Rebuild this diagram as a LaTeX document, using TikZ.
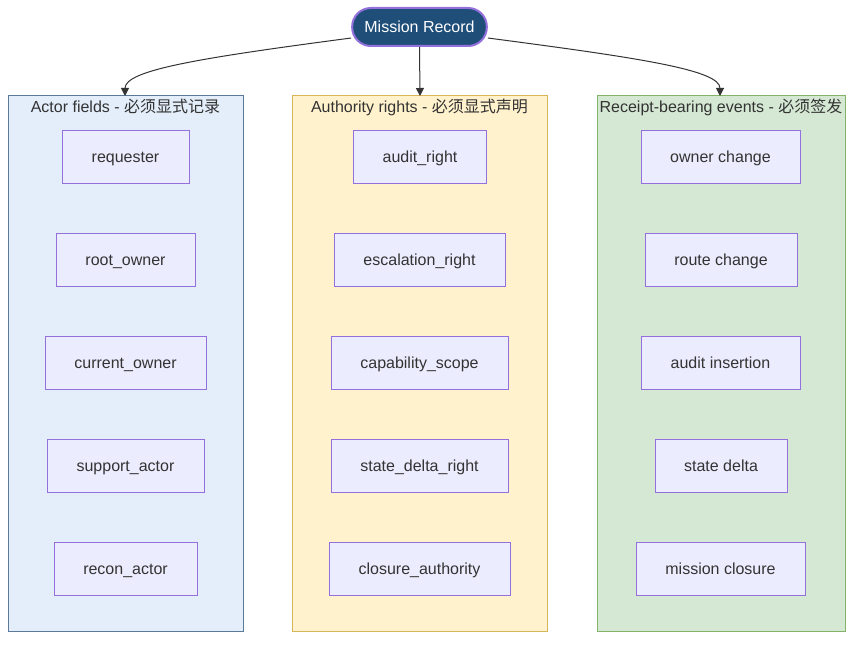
\documentclass[tikz,border=0pt]{standalone}
\usepackage{fontspec}
\setmainfont{Liberation Sans}
\newfontfamily\cjk{Noto Sans CJK SC}
\usetikzlibrary{arrows.meta}
\definecolor{missionblue}{HTML}{1F4E79}
\definecolor{nodepurple}{HTML}{9370DB}
\definecolor{nodefill}{HTML}{ECECFF}
\definecolor{actorfill}{HTML}{E3EEFA}
\definecolor{actorline}{HTML}{5B7A9A}
\definecolor{rightfill}{HTML}{FFF2CC}
\definecolor{rightline}{HTML}{D6B656}
\definecolor{eventfill}{HTML}{D5E8D4}
\definecolor{eventline}{HTML}{82B366}
\definecolor{textgrey}{HTML}{333333}
\tikzset{
  field/.style={draw=nodepurple, fill=nodefill, text=textgrey, minimum height=40pt, inner sep=0pt,
    text height=8pt, text depth=0pt, font=\fontsize{12}{14}\selectfont},
  cluster/.style={line width=0.75pt},
  title/.style={text=textgrey, inner sep=0pt, text height=8.5pt, text depth=2pt, font=\fontsize{12}{14}\selectfont},
  link/.style={draw=textgrey, line width=0.75pt, -{Triangle[length=6pt,width=6pt]}}
}

\begin{document}
\begin{tikzpicture}[x=0.75pt, y=-0.75pt]
  \useasboundingbox (0,0) rectangle (861,645);
  % the three groups
  \draw [cluster, draw=actorline, fill=actorfill] (8,96) rectangle (243,631);
  \draw [cluster, draw=rightline, fill=rightfill] (292,96) rectangle (547,631);
  \draw [cluster, draw=eventline, fill=eventfill] (597,96) rectangle (845,631);
  \node [title] (actortitle) at (125.5,108.5) {Actor fields - {\cjk 必须显式记录}};
  \node [title] (righttitle) at (419.5,108.5) {Authority rights - {\cjk 必须显式声明}};
  \node [title] (eventtitle) at (721,108.5) {Receipt-bearing events - {\cjk 必须签发}};
  \coordinate (actortop) at (125,96);
  \coordinate (righttop) at (420,96);
  \coordinate (eventtop) at (720,96);
  % root node
  \node [draw=nodepurple, line width=1.5pt, fill=missionblue, text=white, rounded corners=14pt,
         minimum width=101pt, minimum height=28.5pt, inner sep=0pt, text height=8pt, text depth=0pt,
         font=\fontsize{12}{14}\selectfont] (mission) at (419.5,27) {Mission Record};
  % actor fields
  \node [field, minimum width=95pt] (requester) at (125.5,157) {requester};
  \node [field, minimum width=104pt] (rootowner) at (125.5,260) {root\_owner};
  \node [field, minimum width=121pt] (currentowner) at (125.5,363) {current\_owner};
  \node [field, minimum width=118pt] (supportactor) at (125.5,466) {support\_actor};
  \node [field, minimum width=107pt] (reconactor) at (125.5,569) {recon\_actor};
  % authority rights
  \node [field, minimum width=100pt] (auditright) at (420,157) {audit\_right};
  \node [field, minimum width=128pt] (escalationright) at (419.5,260) {escalation\_right};
  \node [field, minimum width=133pt] (capabilityscope) at (419.5,363) {capability\_scope};
  \node [field, minimum width=133pt] (statedeltaright) at (419.5,466) {state\_delta\_right};
  \node [field, minimum width=136pt] (closureauthority) at (419.5,569) {closure\_authority};
  % receipt-bearing events
  \node [field, minimum width=119pt] (ownerchange) at (720.5,157) {owner change};
  \node [field, minimum width=114pt] (routechange) at (721,260) {route change};
  \node [field, minimum width=119pt] (auditinsertion) at (720.5,363) {audit insertion};
  \node [field, minimum width=99pt] (statedelta) at (721,466) {state delta};
  \node [field, minimum width=127pt] (missionclosure) at (720.5,569) {mission closure};
  % links from the root
  \draw [link] (mission.west |- 0,38) .. controls (200,58) and (125,70) .. (actortop);
  \draw [link] (mission.south) -- (righttop);
  \draw [link] (mission.east |- 0,38) .. controls (640,58) and (720,70) .. (eventtop);
\end{tikzpicture}
\end{document}
